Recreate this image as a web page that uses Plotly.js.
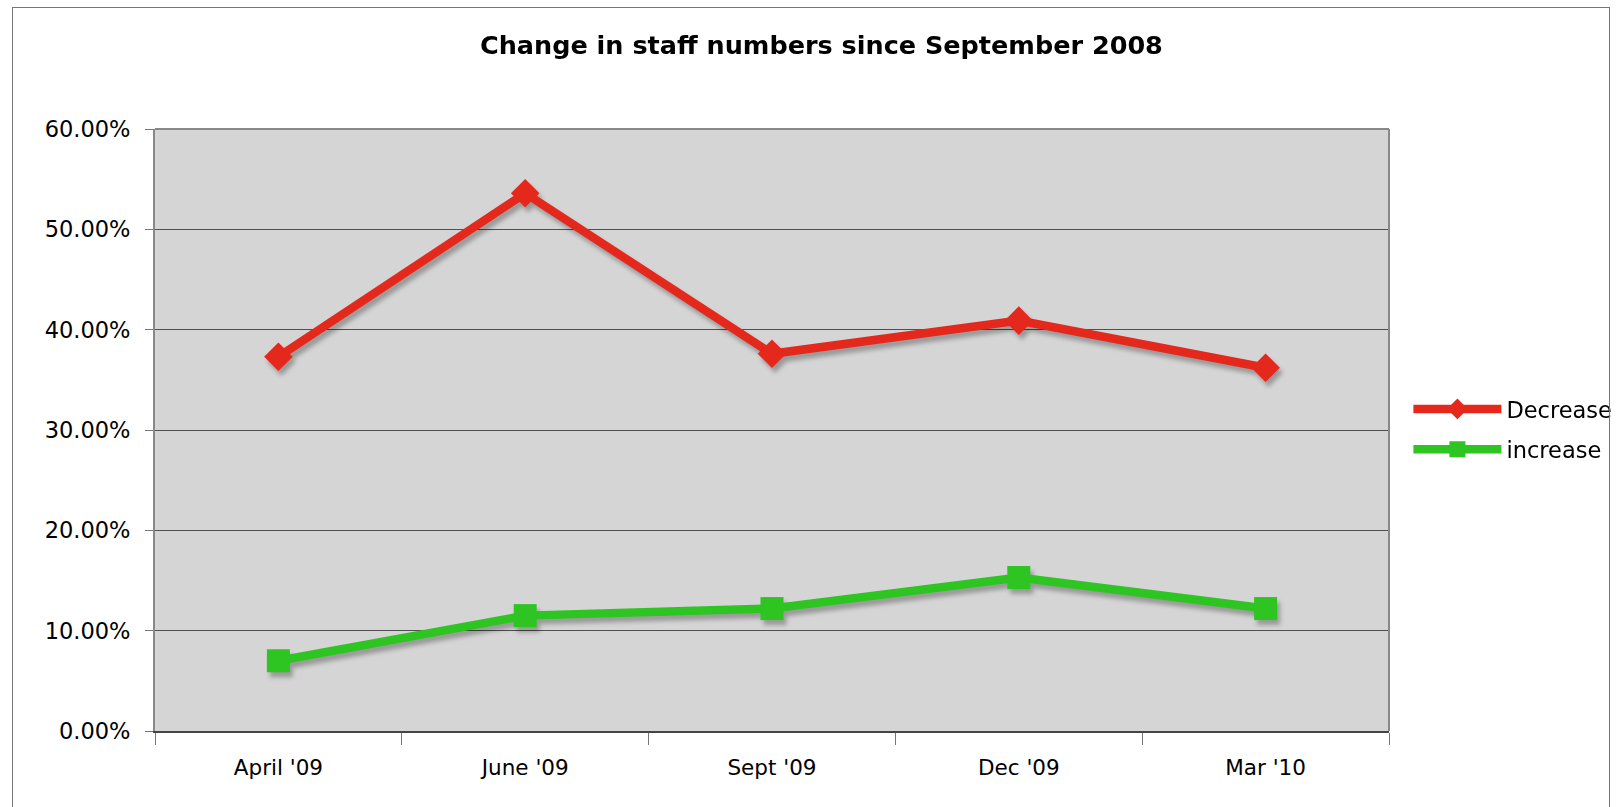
<!DOCTYPE html>
<html>
<head>
<meta charset="utf-8">
<script src="https://cdn.plot.ly/plotly-3.0.1.min.js"></script>
<style>
  html, body { margin: 0; padding: 0; background: #fff; }
  #wrap { position: relative; width: 1617px; height: 807px; overflow: hidden; }
  #frame { position: absolute; left: 12px; top: 7px; width: 1596px; height: 820px; border: 1px solid #777; pointer-events: none; z-index: 5; }
  #chart { position: absolute; left: 0; top: 0; width: 1617px; height: 807px; }
  .scatterlayer { filter: drop-shadow(3px 5px 2px rgba(0,0,0,0.28)); }
</style>
</head>
<body>
<div id="wrap">
  <div id="chart"></div>
  <div id="frame"></div>
</div>
<script>
const categories = ["April '09", "June '09", "Sept '09", "Dec '09", "Mar '10"];
const decreaseValues = [37.3, 53.6, 37.6, 40.9, 36.2];
const increaseValues = [7.0, 11.5, 12.2, 15.3, 12.2];
const seriesNames = ["Decrease", "increase"];
const yTickValues = [0, 10, 20, 30, 40, 50, 60];
const yTickLabels = ["0.00%", "10.00%", "20.00%", "30.00%", "40.00%", "50.00%", "60.00%"];

const FONT = "DejaVu Sans, Verdana, sans-serif";

const traces = [
  {
    x: categories, y: decreaseValues, name: seriesNames[0], legendgroup: "g1",
    type: "scatter", mode: "lines+markers",
    line: { color: "#e5281c", width: 8.5 },
    marker: { symbol: "diamond", size: 22, color: "#e5281c" }
  },
  {
    x: categories, y: increaseValues, name: seriesNames[1], legendgroup: "g2",
    type: "scatter", mode: "lines+markers",
    line: { color: "#2ec422", width: 8.5 },
    marker: { symbol: "square", size: 23, color: "#2ec422" }
  }
];

const layout = {
  width: 1617, height: 807,
  margin: { l: 155, r: 228, t: 129, b: 76, pad: 0, autoexpand: false },
  paper_bgcolor: "#ffffff",
  plot_bgcolor: "#d5d5d5",
  font: { family: FONT, size: 22, color: "#000" },
  title: {
    text: "<b>Change in staff numbers since September 2008</b>",
    font: { family: FONT, size: 25.5, color: "#000" },
    x: 0.508, xanchor: "center", y: 0.944, yanchor: "middle"
  },
  showlegend: true,
  legend: {
    xref: "container", yref: "container",
    x: 0.871, xanchor: "left", y: 0.468, yanchor: "middle",
    bgcolor: "rgba(0,0,0,0)", borderwidth: 0,
    font: { family: FONT, size: 22.5, color: "#000" },
    itemwidth: 88, tracegroupgap: 8
  },
  xaxis: {
    type: "category",
    range: [-0.5, 4.5],
    tickson: "boundaries",
    ticks: "outside", ticklen: 12, tickcolor: "#777", tickwidth: 1,
    ticklabelstandoff: 16,
    showgrid: false,
    showline: true, linecolor: "#444", linewidth: 2,
    tickfont: { family: FONT, size: 21.5, color: "#000" },
    fixedrange: true
  },
  yaxis: {
    range: [0, 60],
    tickmode: "array",
    tickvals: yTickValues,
    ticktext: yTickLabels,
    ticks: "outside", ticklen: 8, tickcolor: "#777", tickwidth: 1,
    ticklabelstandoff: 10,
    showgrid: true, gridcolor: "#505050", gridwidth: 1,
    zeroline: false,
    showline: true, linecolor: "#888", linewidth: 2,
    tickfont: { family: FONT, size: 22.5, color: "#000" },
    fixedrange: true
  },
  shapes: [
    { type: "line", xref: "paper", yref: "paper", x0: 0, x1: 1, y0: 1, y1: 1, line: { color: "#888", width: 2 } },
    { type: "line", xref: "paper", yref: "paper", x0: 1, x1: 1, y0: 0, y1: 1, line: { color: "#888", width: 2 } }
  ]
};

Plotly.newPlot("chart", traces, layout, { displayModeBar: false, staticPlot: true });
</script>
</body>
</html>
